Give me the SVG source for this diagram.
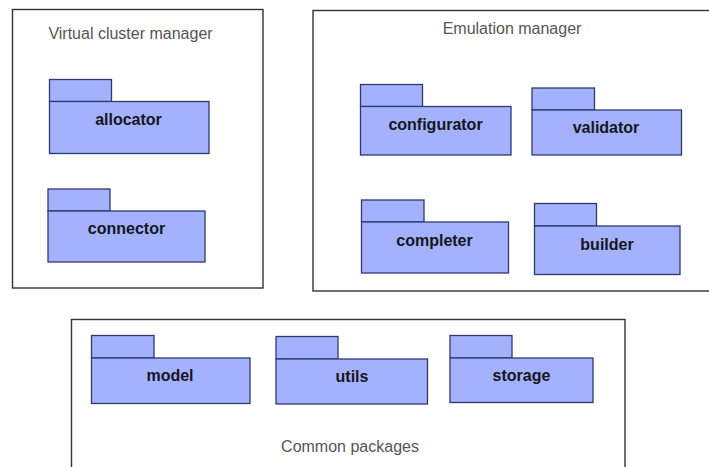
<svg xmlns="http://www.w3.org/2000/svg" width="709" height="467" viewBox="0 0 709 467">
  <style>
    .frame { fill: #ffffff; stroke: #333333; stroke-width: 1.4; }
    .title { font-family: "Liberation Sans", Arial, sans-serif; font-size: 16px; fill: #555555; text-anchor: middle; }
    .pkg rect { fill: #a4b2fe; stroke: #2e3a6e; stroke-width: 1.3; }
    .pkg text { font-family: "Liberation Sans", Arial, sans-serif; font-size: 16px; font-weight: bold; fill: #151520; text-anchor: middle; }
  </style>
  <rect width="709" height="467" fill="#ffffff"/>

  <!-- containers -->
  <g id="virtual-cluster-manager">
    <rect class="frame" x="12.5" y="9.5" width="250.5" height="278.5"/>
    <text class="title" x="130.5" y="39">Virtual cluster manager</text>
  </g>
  <g id="emulation-manager">
    <rect class="frame" x="313" y="10.5" width="410" height="280.5"/>
    <text class="title" x="512" y="34">Emulation manager</text>
  </g>
  <g id="common-packages">
    <rect class="frame" x="71.5" y="319.5" width="553.5" height="160"/>
    <text class="title" x="350" y="452">Common packages</text>
  </g>

  <!-- packages -->
  <g id="allocator" class="pkg">
    <rect x="49.5" y="79.5" width="62" height="22"/>
    <rect x="49.5" y="101.5" width="159.5" height="52"/>
    <text x="128.5" y="124.5">allocator</text>
  </g>
  <g id="connector" class="pkg">
    <rect x="48" y="189" width="62" height="22"/>
    <rect x="48" y="211" width="157" height="51"/>
    <text x="126.5" y="234">connector</text>
  </g>
  <g id="configurator" class="pkg">
    <rect x="360.5" y="84.5" width="62" height="22"/>
    <rect x="360.5" y="106.5" width="150.5" height="48.5"/>
    <text x="435.5" y="129.5">configurator</text>
  </g>
  <g id="validator" class="pkg">
    <rect x="532" y="88" width="62.5" height="22"/>
    <rect x="532" y="110" width="149.5" height="45"/>
    <text x="606" y="133">validator</text>
  </g>
  <g id="completer" class="pkg">
    <rect x="361.5" y="200" width="62.5" height="22"/>
    <rect x="361.5" y="222" width="147" height="51"/>
    <text x="434.5" y="245.5">completer</text>
  </g>
  <g id="builder" class="pkg">
    <rect x="534.5" y="203.5" width="62" height="22.5"/>
    <rect x="534.5" y="226" width="145.5" height="48.5"/>
    <text x="607" y="249.5">builder</text>
  </g>
  <g id="model" class="pkg">
    <rect x="91.5" y="335.5" width="62.5" height="22.5"/>
    <rect x="91.5" y="358" width="158.5" height="45.5"/>
    <text x="170" y="381">model</text>
  </g>
  <g id="utils" class="pkg">
    <rect x="276" y="336.5" width="62" height="22.5"/>
    <rect x="276" y="359" width="151.5" height="45"/>
    <text x="352" y="382">utils</text>
  </g>
  <g id="storage" class="pkg">
    <rect x="450" y="335.5" width="62" height="22.5"/>
    <rect x="450" y="358" width="143" height="44.5"/>
    <text x="521.5" y="381">storage</text>
  </g>

  <!-- no connectors are drawn between packages -->
  <g id="connectors"/>
</svg>
